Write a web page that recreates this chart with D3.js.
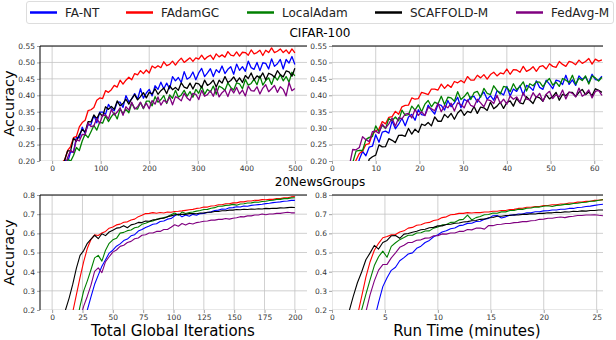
<!DOCTYPE html>
<html>
<head>
<meta charset="utf-8">
<script src="https://cdn.jsdelivr.net/npm/d3@7"></script>
<style>
  body { margin: 0; background: #fff; }
  svg { font-family: "DejaVu Sans", sans-serif; }
</style>
</head>
<body>
<svg id="chart" width="616" height="340"></svg>
<script>
const methods = ['FA-NT', 'FAdamGC', 'LocalAdam', 'SCAFFOLD-M', 'FedAvg-M'];
const methodColors = ['blue', 'red', 'green', 'black', 'purple'];

// CIFAR-100 vs total global iterations (sampled every 6 iterations)
const cifarIters = d3.range(20, 501, 6);
const cifarIterFaNT = [0.17,0.204,0.196,0.228,0.227,0.273,0.27,0.303,0.284,0.31,0.311,0.339,0.316,0.349,0.349,0.342,0.372,0.359,0.353,0.379,0.379,0.363,0.399,0.38,0.389,0.405,0.388,0.42,0.391,0.407,0.418,0.398,0.429,0.418,0.44,0.42,0.437,0.42,0.457,0.444,0.454,0.439,0.472,0.449,0.455,0.471,0.447,0.468,0.482,0.457,0.468,0.481,0.457,0.478,0.469,0.489,0.466,0.479,0.487,0.464,0.495,0.476,0.487,0.473,0.504,0.484,0.479,0.5,0.475,0.499,0.497,0.48,0.511,0.488,0.496,0.509,0.48,0.509,0.498,0.518,0.494];
const cifarIterFAdamGC = [0.195,0.204,0.232,0.244,0.271,0.275,0.304,0.317,0.324,0.353,0.356,0.363,0.385,0.392,0.39,0.414,0.409,0.417,0.43,0.425,0.446,0.434,0.446,0.455,0.447,0.466,0.462,0.475,0.466,0.477,0.468,0.489,0.483,0.49,0.484,0.502,0.49,0.494,0.504,0.492,0.504,0.513,0.5,0.507,0.514,0.503,0.514,0.51,0.522,0.509,0.517,0.522,0.509,0.526,0.517,0.523,0.516,0.533,0.522,0.52,0.532,0.519,0.531,0.53,0.522,0.538,0.526,0.53,0.537,0.521,0.537,0.53,0.544,0.53,0.534,0.541,0.53,0.538,0.527,0.541,0.529];
const cifarIterLocalAdam = [0.155,0.16,0.206,0.199,0.217,0.241,0.232,0.261,0.282,0.271,0.289,0.308,0.294,0.318,0.315,0.337,0.32,0.335,0.346,0.328,0.358,0.345,0.357,0.347,0.376,0.36,0.358,0.378,0.359,0.382,0.382,0.368,0.396,0.379,0.387,0.399,0.375,0.401,0.391,0.415,0.394,0.401,0.415,0.397,0.411,0.394,0.418,0.406,0.428,0.403,0.418,0.41,0.428,0.403,0.428,0.423,0.415,0.438,0.424,0.416,0.438,0.435,0.42,0.448,0.431,0.436,0.449,0.432,0.459,0.431,0.445,0.453,0.433,0.458,0.446,0.463,0.444,0.457,0.44,0.47,0.459];
const cifarIterScaffold = [0.176,0.204,0.231,0.231,0.269,0.26,0.28,0.296,0.288,0.32,0.319,0.34,0.329,0.346,0.336,0.365,0.357,0.366,0.357,0.383,0.368,0.375,0.388,0.373,0.39,0.402,0.386,0.396,0.408,0.392,0.409,0.404,0.42,0.403,0.414,0.422,0.405,0.429,0.417,0.424,0.415,0.438,0.425,0.421,0.437,0.419,0.437,0.435,0.423,0.446,0.43,0.436,0.446,0.425,0.446,0.437,0.457,0.439,0.445,0.456,0.441,0.453,0.439,0.46,0.451,0.468,0.447,0.459,0.453,0.468,0.447,0.467,0.463,0.455,0.475,0.463,0.456,0.474,0.471,0.458,0.482];
const cifarIterFedAvg = [0.183,0.183,0.211,0.233,0.226,0.265,0.261,0.281,0.28,0.316,0.305,0.307,0.33,0.314,0.339,0.34,0.328,0.357,0.34,0.349,0.362,0.339,0.365,0.355,0.379,0.358,0.365,0.379,0.361,0.376,0.359,0.384,0.373,0.395,0.37,0.385,0.378,0.395,0.371,0.396,0.391,0.383,0.406,0.392,0.384,0.406,0.403,0.387,0.415,0.397,0.402,0.414,0.397,0.423,0.395,0.408,0.416,0.396,0.42,0.407,0.424,0.404,0.416,0.398,0.428,0.414,0.413,0.426,0.404,0.422,0.432,0.411,0.42,0.43,0.409,0.426,0.418,0.398,0.439,0.414,0.421];

// CIFAR-100 vs run time in minutes (sampled every 0.75 min)
const cifarTimes = d3.range(4, 62, 0.75);
const cifarTimeFaNT = [0.157,0.183,0.167,0.205,0.229,0.216,0.242,0.245,0.28,0.257,0.288,0.291,0.285,0.322,0.298,0.312,0.33,0.307,0.334,0.342,0.324,0.356,0.341,0.339,0.37,0.355,0.343,0.372,0.369,0.355,0.384,0.365,0.377,0.394,0.362,0.388,0.381,0.395,0.397,0.379,0.398,0.41,0.388,0.399,0.385,0.414,0.408,0.401,0.427,0.398,0.419,0.412,0.429,0.401,0.43,0.425,0.415,0.444,0.424,0.418,0.446,0.434,0.42,0.446,0.443,0.433,0.461,0.433,0.447,0.43,0.459,0.448,0.456,0.438,0.464,0.448,0.446,0.458];
const cifarTimeFAdamGC = [0.174,0.179,0.202,0.223,0.23,0.25,0.253,0.281,0.292,0.297,0.32,0.313,0.333,0.335,0.351,0.342,0.365,0.369,0.37,0.392,0.388,0.39,0.409,0.406,0.402,0.419,0.419,0.416,0.434,0.421,0.432,0.424,0.442,0.438,0.445,0.438,0.457,0.446,0.446,0.461,0.453,0.463,0.449,0.463,0.47,0.459,0.468,0.465,0.48,0.464,0.478,0.477,0.47,0.488,0.473,0.478,0.487,0.473,0.487,0.49,0.48,0.496,0.488,0.485,0.503,0.494,0.488,0.503,0.5,0.493,0.507,0.497,0.503,0.512,0.495,0.51,0.504,0.508];
const cifarTimeLocalAdam = [0.186,0.195,0.23,0.232,0.232,0.265,0.272,0.274,0.307,0.289,0.309,0.299,0.329,0.323,0.334,0.322,0.355,0.339,0.341,0.367,0.355,0.371,0.35,0.373,0.384,0.365,0.379,0.374,0.397,0.372,0.394,0.392,0.382,0.411,0.387,0.396,0.409,0.387,0.408,0.412,0.394,0.421,0.406,0.402,0.429,0.415,0.404,0.427,0.424,0.411,0.435,0.417,0.427,0.441,0.413,0.435,0.429,0.441,0.44,0.426,0.441,0.451,0.431,0.44,0.427,0.451,0.446,0.439,0.461,0.434,0.452,0.445,0.459,0.434,0.459,0.453,0.443,0.455];
const cifarTimeScaffold = [0.113,0.105,0.134,0.143,0.169,0.167,0.205,0.213,0.218,0.249,0.243,0.244,0.268,0.263,0.256,0.278,0.279,0.275,0.299,0.282,0.297,0.287,0.312,0.308,0.317,0.307,0.334,0.321,0.321,0.342,0.332,0.345,0.327,0.346,0.356,0.339,0.351,0.347,0.366,0.345,0.364,0.362,0.354,0.379,0.359,0.367,0.379,0.36,0.378,0.383,0.367,0.39,0.377,0.374,0.396,0.385,0.375,0.396,0.392,0.382,0.402,0.389,0.396,0.409,0.385,0.403,0.399,0.409,0.409,0.396,0.409,0.418,0.402,0.41,0.399,0.42,0.415,0.409];
const cifarTimeFedAvg = [0.188,0.235,0.234,0.241,0.274,0.265,0.259,0.289,0.291,0.284,0.312,0.3,0.313,0.331,0.306,0.332,0.328,0.343,0.345,0.331,0.357,0.339,0.35,0.338,0.363,0.359,0.353,0.376,0.35,0.369,0.362,0.376,0.352,0.377,0.371,0.362,0.386,0.369,0.365,0.388,0.377,0.365,0.387,0.384,0.375,0.4,0.375,0.388,0.373,0.398,0.388,0.395,0.379,0.408,0.388,0.386,0.408,0.393,0.406,0.382,0.403,0.412,0.39,0.402,0.395,0.416,0.389,0.41,0.406,0.395,0.422,0.397,0.404,0.416,0.392,0.412,0.415,0.4];

// 20NewsGroups vs total global iterations (sampled every 3 iterations)
const newsIters = d3.range(8, 201, 3);
const newsIterFaNT = [0.1,0.1,0.1,0.1,0.1,0.1,0.13,0.2,0.268,0.334,0.382,0.428,0.462,0.497,0.512,0.533,0.545,0.562,0.57,0.587,0.593,0.612,0.62,0.63,0.638,0.647,0.65,0.662,0.664,0.674,0.677,0.692,0.701,0.686,0.696,0.689,0.699,0.694,0.703,0.704,0.709,0.712,0.719,0.721,0.727,0.726,0.733,0.734,0.739,0.737,0.743,0.741,0.746,0.748,0.75,0.752,0.755,0.757,0.76,0.762,0.764,0.767,0.769,0.772,0.772];
const newsIterFAdamGC = [0.1,0.1,0.12,0.19,0.28,0.37,0.452,0.522,0.568,0.592,0.589,0.602,0.61,0.627,0.633,0.644,0.648,0.658,0.66,0.67,0.674,0.687,0.694,0.703,0.704,0.708,0.705,0.709,0.706,0.711,0.71,0.714,0.715,0.717,0.72,0.723,0.725,0.73,0.732,0.737,0.737,0.743,0.744,0.749,0.749,0.754,0.754,0.759,0.759,0.764,0.764,0.769,0.769,0.773,0.772,0.776,0.775,0.778,0.777,0.781,0.781,0.785,0.786,0.79,0.792];
const newsIterLocalAdam = [0.1,0.1,0.1,0.1,0.13,0.22,0.3,0.352,0.41,0.472,0.485,0.455,0.512,0.548,0.566,0.574,0.601,0.605,0.614,0.617,0.629,0.633,0.647,0.653,0.661,0.664,0.674,0.676,0.682,0.686,0.697,0.706,0.694,0.711,0.703,0.709,0.711,0.716,0.719,0.724,0.725,0.731,0.734,0.741,0.741,0.746,0.747,0.751,0.747,0.753,0.754,0.758,0.759,0.763,0.762,0.766,0.767,0.771,0.773,0.777,0.777,0.781,0.781,0.785,0.786];
const newsIterScaffold = [0.12,0.2,0.262,0.335,0.418,0.485,0.51,0.548,0.57,0.59,0.572,0.598,0.588,0.607,0.616,0.627,0.63,0.64,0.629,0.644,0.649,0.657,0.656,0.664,0.663,0.67,0.671,0.678,0.679,0.687,0.691,0.697,0.698,0.699,0.699,0.703,0.703,0.702,0.706,0.706,0.71,0.71,0.714,0.714,0.718,0.718,0.721,0.721,0.724,0.723,0.726,0.724,0.727,0.726,0.728,0.727,0.73,0.729,0.731,0.73,0.733,0.732,0.734,0.736,0.735];
const newsIterFedAvg = [0.1,0.1,0.1,0.1,0.1,0.15,0.22,0.272,0.33,0.402,0.42,0.395,0.452,0.478,0.502,0.513,0.532,0.538,0.552,0.558,0.572,0.576,0.59,0.593,0.602,0.602,0.61,0.61,0.62,0.62,0.632,0.645,0.637,0.651,0.643,0.653,0.649,0.656,0.659,0.663,0.664,0.669,0.669,0.673,0.673,0.677,0.674,0.679,0.681,0.687,0.686,0.691,0.691,0.696,0.696,0.701,0.697,0.701,0.701,0.704,0.704,0.707,0.71,0.707,0.707];

// 20NewsGroups vs run time in minutes (sampled every 0.4 min)
const newsTimes = d3.range(1.6, 25.61, 0.4);
const newsTimeFaNT = [0.1,0.1,0.1,0.1,0.1,0.1,0.15,0.24,0.322,0.368,0.407,0.423,0.457,0.473,0.492,0.498,0.522,0.533,0.552,0.563,0.582,0.593,0.607,0.613,0.624,0.628,0.64,0.643,0.652,0.653,0.662,0.663,0.674,0.678,0.692,0.693,0.68,0.686,0.695,0.695,0.701,0.701,0.707,0.707,0.713,0.713,0.717,0.718,0.722,0.722,0.726,0.726,0.73,0.73,0.735,0.736,0.74,0.742,0.746,0.749,0.752];
const newsTimeFAdamGC = [0.1,0.1,0.17,0.27,0.372,0.452,0.512,0.548,0.577,0.583,0.592,0.594,0.607,0.613,0.627,0.631,0.642,0.645,0.654,0.657,0.667,0.671,0.682,0.686,0.697,0.699,0.704,0.704,0.708,0.706,0.709,0.708,0.711,0.711,0.715,0.715,0.719,0.719,0.724,0.725,0.73,0.731,0.736,0.736,0.74,0.74,0.745,0.745,0.749,0.749,0.753,0.753,0.758,0.758,0.763,0.763,0.767,0.767,0.772,0.773,0.776];
const newsTimeLocalAdam = [0.1,0.1,0.1,0.2,0.282,0.358,0.432,0.478,0.507,0.475,0.532,0.551,0.567,0.578,0.59,0.59,0.602,0.603,0.612,0.613,0.627,0.633,0.644,0.646,0.657,0.658,0.67,0.673,0.695,0.67,0.682,0.688,0.697,0.698,0.706,0.705,0.712,0.712,0.719,0.719,0.726,0.725,0.731,0.732,0.737,0.737,0.741,0.744,0.74,0.746,0.747,0.751,0.751,0.756,0.757,0.761,0.762,0.767,0.768,0.773,0.775];
const newsTimeScaffold = [0.19,0.27,0.342,0.398,0.462,0.498,0.537,0.518,0.552,0.563,0.587,0.589,0.574,0.596,0.599,0.606,0.611,0.619,0.621,0.629,0.631,0.639,0.639,0.646,0.647,0.653,0.654,0.659,0.661,0.666,0.667,0.673,0.674,0.681,0.683,0.689,0.689,0.693,0.693,0.697,0.696,0.699,0.699,0.702,0.701,0.705,0.704,0.707,0.707,0.71,0.709,0.712,0.711,0.715,0.714,0.717,0.716,0.719,0.719,0.722,0.722];
const newsTimeFedAvg = [0.1,0.1,0.1,0.1,0.19,0.28,0.352,0.408,0.437,0.438,0.472,0.498,0.527,0.538,0.552,0.553,0.564,0.566,0.575,0.576,0.587,0.588,0.597,0.596,0.602,0.602,0.61,0.61,0.62,0.618,0.627,0.628,0.622,0.641,0.64,0.646,0.647,0.651,0.651,0.656,0.657,0.661,0.661,0.666,0.667,0.673,0.674,0.679,0.679,0.683,0.685,0.682,0.687,0.689,0.693,0.693,0.696,0.696,0.697,0.694,0.692];

// axis ticks
const cifarIterTicks = [0, 100, 200, 300, 400, 500];
const cifarTimeTicks = [0, 10, 20, 30, 40, 50, 60];
const newsIterTicks = [0, 25, 50, 75, 100, 125, 150, 175, 200];
const newsTimeTicks = [0, 5, 10, 15, 20, 25];
const cifarAccTicks = [0.20, 0.25, 0.30, 0.35, 0.40, 0.45, 0.50, 0.55];
const newsAccTicks = [0.2, 0.3, 0.4, 0.5, 0.6, 0.7, 0.8];

const panels = [
  { id: 'tl', left: 40, right: 307, top: 46, bottom: 161, x: cifarIters,
    series: [cifarIterFaNT, cifarIterFAdamGC, cifarIterLocalAdam, cifarIterScaffold, cifarIterFedAvg],
    xDomain: [-25, 525], yDomain: [0.2, 0.55], xTicks: cifarIterTicks, yTicks: cifarAccTicks, yFmt: '.2f', spine: true, lw: 1.3 },
  { id: 'tr', left: 332, right: 603, top: 46, bottom: 161, x: cifarTimes,
    series: [cifarTimeFaNT, cifarTimeFAdamGC, cifarTimeLocalAdam, cifarTimeScaffold, cifarTimeFedAvg],
    xDomain: [0, 62], yDomain: [0.2, 0.55], xTicks: cifarTimeTicks, yTicks: cifarAccTicks, yFmt: '.2f', spine: false, lw: 1.3 },
  { id: 'bl', left: 40, right: 307, top: 195, bottom: 310, x: newsIters,
    series: [newsIterFaNT, newsIterFAdamGC, newsIterLocalAdam, newsIterScaffold, newsIterFedAvg],
    xDomain: [-10, 210], yDomain: [0.2, 0.8], xTicks: newsIterTicks, yTicks: newsAccTicks, yFmt: '.1f', spine: true, lw: 1.1 },
  { id: 'br', left: 332, right: 603, top: 195, bottom: 310, x: newsTimes,
    series: [newsTimeFaNT, newsTimeFAdamGC, newsTimeLocalAdam, newsTimeScaffold, newsTimeFedAvg],
    xDomain: [0, 25.6], yDomain: [0.2, 0.8], xTicks: newsTimeTicks, yTicks: newsAccTicks, yFmt: '.1f', spine: false, lw: 1.1 },
];

const svg = d3.select('#chart');

panels.forEach(p => {
  const xScale = d3.scaleLinear().domain(p.xDomain).range([p.left, p.right]);
  const yScale = d3.scaleLinear().domain(p.yDomain).range([p.bottom, p.top]);
  const g = svg.append('g');

  g.append('clipPath').attr('id', 'clip-' + p.id)
    .append('rect')
    .attr('x', p.left).attr('y', p.top)
    .attr('width', p.right - p.left).attr('height', p.bottom - p.top);

  // gridlines
  const grid = g.append('g').attr('clip-path', `url(#clip-${p.id})`)
    .attr('stroke', '#c4c4c4').attr('stroke-width', 0.8);
  grid.selectAll('.gx').data(p.xTicks).join('line')
    .attr('x1', d => xScale(d)).attr('x2', d => xScale(d))
    .attr('y1', p.top).attr('y2', p.bottom);
  grid.selectAll('.gy').data(p.yTicks).join('line')
    .attr('x1', p.left).attr('x2', p.right)
    .attr('y1', d => yScale(d)).attr('y2', d => yScale(d));

  // axes
  const xAxis = g.append('g')
    .attr('transform', `translate(0,${p.bottom})`)
    .call(d3.axisBottom(xScale).tickValues(p.xTicks).tickSize(3).tickPadding(1.5).tickFormat(d3.format('d')));
  const yAxis = g.append('g')
    .attr('transform', `translate(${p.left},0)`)
    .call(d3.axisLeft(yScale).tickValues(p.yTicks).tickSize(3).tickPadding(2).tickFormat(d3.format(p.yFmt)));
  [xAxis, yAxis].forEach(a => {
    a.select('.domain').remove();
    a.selectAll('line').attr('stroke', '#777').attr('stroke-width', 0.7);
    a.selectAll('text').attr('font-size', 7.5).attr('fill', '#333')
      .attr('font-family', '"DejaVu Sans", sans-serif');
  });

  // lines
  const lines = g.append('g').attr('clip-path', `url(#clip-${p.id})`);
  p.series.forEach((vals, i) => {
    const pts = vals.map((v, j) => [p.x[j], v]);
    lines.append('path')
      .datum(pts)
      .attr('fill', 'none')
      .attr('stroke', methodColors[i])
      .attr('stroke-width', p.lw)
      .attr('stroke-linejoin', 'round')
      .attr('d', d3.line().x(d => xScale(d[0])).y(d => yScale(d[1])));
  });

  // spines
  g.append('line').attr('x1', p.left).attr('x2', p.right)
    .attr('y1', p.top).attr('y2', p.top)
    .attr('stroke', '#000').attr('stroke-width', 1);
  if (p.spine) {
    g.append('line').attr('x1', p.left).attr('x2', p.left)
      .attr('y1', p.top).attr('y2', p.bottom)
      .attr('stroke', '#000').attr('stroke-width', 1);
  }
});

// titles and axis labels
svg.append('text').attr('x', 320).attr('y', 37).attr('text-anchor', 'middle')
  .attr('font-size', 12).text('CIFAR-100');
svg.append('text').attr('x', 320).attr('y', 186).attr('text-anchor', 'middle')
  .attr('font-size', 12).text('20NewsGroups');

[103.5, 252.5].forEach(cy => {
  svg.append('text')
    .attr('transform', `translate(13.5,${cy}) rotate(-90)`)
    .attr('text-anchor', 'middle').attr('font-size', 14.5).text('Accuracy');
});
svg.append('text').attr('x', 173).attr('y', 336).attr('text-anchor', 'middle')
  .attr('font-size', 15).text('Total Global Iterations');
svg.append('text').attr('x', 467).attr('y', 336).attr('text-anchor', 'middle')
  .attr('font-size', 15).text('Run Time (minutes)');

// legend
const legend = svg.append('g');
legend.append('rect').attr('x', 26.5).attr('y', 1.5).attr('width', 587).attr('height', 22)
  .attr('rx', 2.5).attr('fill', '#fff').attr('stroke', '#d4d4d4').attr('stroke-width', 0.8);
const legendX = [30, 126, 247, 375, 516];
methods.forEach((m, i) => {
  legend.append('line').attr('x1', legendX[i]).attr('x2', legendX[i] + 27)
    .attr('y1', 12.5).attr('y2', 12.5)
    .attr('stroke', methodColors[i]).attr('stroke-width', 2.5);
  legend.append('text').attr('x', legendX[i] + 35).attr('y', 16.8)
    .attr('font-size', 12).attr('fill', '#222').text(m);
});
</script>
</body>
</html>
